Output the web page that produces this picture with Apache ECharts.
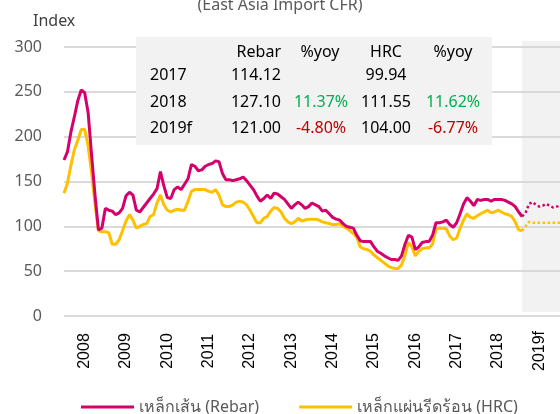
<!DOCTYPE html>
<html>
<head>
<meta charset="utf-8">
<script src="https://cdn.jsdelivr.net/npm/echarts@6/dist/echarts.min.js"></script>
<style>
  html, body { margin: 0; padding: 0; background: #fff; }
  #container { width: 560px; height: 414px; }
</style>
</head>
<body>
<div id="container"></div>
<script>
var dom = document.getElementById('container');
var myChart = echarts.init(dom, null, { renderer: 'canvas' });

// monthly categories Jan 2008 .. Jan 2020
var months = [];
for (var y = 2008; y <= 2020; y++) {
  for (var m = 1; m <= 12; m++) {
    if (y === 2020 && m > 1) break;
    months.push(y + '-' + (m < 10 ? '0' + m : m));
  }
}
var yearLabels = ['2008', '2009', '2010', '2011', '2012', '2013', '2014', '2015', '2016', '2017', '2018', '2019f'];

// Rebar index, monthly actual (Jan 2008 - Feb 2019)
var rebar = [
  174, 183, 205, 222, 240, 252, 249, 227, 180, 135, 96, 98,
  120, 118, 117, 113, 115, 120, 134, 138, 135, 118, 116, 121,
  126, 131, 136, 142, 161, 145, 132, 131, 141, 144, 141, 147,
  153, 169, 167, 162, 163, 167, 169, 170, 173, 172, 159, 152,
  152, 151, 152, 153, 155, 151, 146, 141, 134, 128, 131, 135,
  131, 137, 136, 133, 130, 125, 120, 124, 127, 124, 120, 122,
  126, 124, 122, 117, 118, 114, 110, 108, 107, 103, 100, 99,
  98, 90, 84, 83, 83, 83, 77, 72, 70, 67, 65, 63,
  63, 62, 67, 80, 90, 88, 74, 77, 82, 83, 83, 90,
  104, 104, 105, 107, 102, 99, 104, 114, 125, 132, 128, 123,
  130, 129, 130, 130, 128, 130, 130, 130, 129, 127, 125, 122,
  116, 111
];
// HRC index, monthly actual
var hrc = [
  137, 148, 168, 185, 196, 208, 208, 190, 160, 125, 95, 94,
  94, 93, 80, 80, 85, 95, 106, 113, 107, 98, 100, 102,
  103, 111, 113, 126, 135, 124, 118, 116, 118, 119, 118, 118,
  128, 139, 141, 141, 141, 141, 139, 138, 141, 135, 124, 122,
  122, 124, 127, 128, 127, 124, 118, 111, 104, 104, 109, 111,
  117, 121, 120, 116, 109, 105, 103, 105, 109, 106, 107, 108,
  108, 108, 107, 105, 104, 103, 102, 102, 103, 100, 98, 95,
  92, 88, 77, 75, 74, 72, 68, 65, 62, 59, 56, 54,
  53, 53, 57, 68, 82, 77, 67, 72, 75, 76, 76, 80,
  97, 98, 98, 97, 89, 85, 87, 98, 107, 114, 110, 109,
  112, 114, 116, 118, 115, 116, 118, 116, 114, 113, 111, 105,
  96, 95
];
// forecast part (from Feb 2019)
var rebarForecast = [111, 115, 125, 127, 124, 122, 123, 125, 123, 121, 122, 123];
var hrcForecast = [95, 100, 105, 104, 104, 104, 104, 104, 104, 104, 104, 104];

// table of yearly averages
var tableYears = ['2017', '2018', '2019f'];
var rebarAvg = ['114.12', '127.10', '121.00'];
var rebarYoy = ['', '11.37%', '-4.80%'];
var hrcAvg = ['99.94', '111.55', '104.00'];
var hrcYoy = ['', '11.62%', '-6.77%'];

var colors = ['#d4006b', '#ffc000'];
var fcStart = rebar.length - 1;

function padForecast(arr) {
  var out = [];
  for (var i = 0; i < fcStart; i++) out.push('-');
  return out.concat(arr);
}

var font = '"Noto Sans", "Open Sans", sans-serif';

// table graphics
var tableEls = [{
  type: 'rect',
  shape: { x: 136, y: 37, width: 356, height: 108 },
  style: { fill: '#f2f2f2' },
  z: 5
}];
function tText(x, y, text, align, color) {
  tableEls.push({
    type: 'text', x: x, y: y, z: 6,
    style: {
      text: text, align: align, verticalAlign: 'middle',
      fill: color || '#000', font: '16px ' + font
    }
  });
}
tText(281, 52, 'Rebar', 'right');
tText(320, 52, '%yoy', 'center');
tText(386, 52, 'HRC', 'center');
tText(453, 52, '%yoy', 'center');
var rowY = [75, 102, 128];
tableYears.forEach(function (yr, i) {
  tText(150, rowY[i], yr, 'left');
  tText(281, rowY[i], rebarAvg[i], 'right');
  tText(321, rowY[i], rebarYoy[i], 'center', rebarYoy[i].charAt(0) === '-' ? '#c00000' : '#00b050');
  tText(386, rowY[i], hrcAvg[i], 'center');
  tText(453, rowY[i], hrcYoy[i], 'center', hrcYoy[i].charAt(0) === '-' ? '#c00000' : '#00b050');
});

var option = {
  animation: false,
  backgroundColor: '#fff',
  color: colors,
  title: {
    text: '(East Asia Import CFR)',
    left: 'center',
    top: -8,
    textStyle: { color: '#595959', fontSize: 16, fontWeight: 'normal', fontFamily: font }
  },
  grid: { left: 64, right: 0, top: 47, bottom: 98 },
  legend: {
    data: ['เหล็กเส้น (Rebar)', 'เหล็กแผ่นรีดร้อน (HRC)'],
    left: 76,
    top: 394,
    icon: 'rect',
    itemWidth: 53,
    itemHeight: 3,
    itemGap: 40,
    textStyle: { color: '#595959', fontSize: 16, fontFamily: font }
  },
  graphic: [
    {
      type: 'rect',
      shape: { x: 522, y: 41, width: 38, height: 271 },
      style: { fill: '#f2f2f2' },
      z: -1
    },
    {
      type: 'text', x: 33, y: 21,
      style: { text: 'Index', fill: '#404040', font: '16px ' + font, verticalAlign: 'middle' }
    }
  ].concat(tableEls),
  xAxis: {
    type: 'category',
    data: months,
    boundaryGap: false,
    axisLine: { show: false },
    axisTick: { show: false },
    axisLabel: {
      rotate: 90,
      align: 'center',
      verticalAlign: 'middle',
      margin: 35,
      color: '#000',
      fontSize: 16,
      fontFamily: 'Liberation Sans, Arial, sans-serif',
      interval: function (i) { return i % 12 === 6; },
      formatter: function (v, i) { return yearLabels[Math.floor(i / 12)] || ''; }
    }
  },
  yAxis: {
    type: 'value',
    min: 0,
    max: 300,
    interval: 50,
    axisLine: { show: false },
    axisTick: { show: false },
    axisLabel: { color: '#595959', fontSize: 16, margin: 22, fontFamily: font },
    splitLine: { lineStyle: { color: '#d9d9d9', width: 2 } }
  },
  series: [
    {
      name: 'เหล็กเส้น (Rebar)',
      type: 'line',
      data: rebar,
      showSymbol: false,
      lineStyle: { width: 3, color: colors[0] },
      itemStyle: { color: colors[0] },
      z: 3
    },
    {
      name: 'เหล็กแผ่นรีดร้อน (HRC)',
      type: 'line',
      data: hrc,
      showSymbol: false,
      lineStyle: { width: 3, color: colors[1] },
      itemStyle: { color: colors[1] },
      z: 2
    },
    {
      name: 'Rebar forecast',
      type: 'line',
      data: padForecast(rebarForecast),
      showSymbol: false,
      lineStyle: { width: 2.5, color: colors[0], type: [2.5, 2.5] },
      itemStyle: { color: colors[0] },
      z: 3
    },
    {
      name: 'HRC forecast',
      type: 'line',
      data: padForecast(hrcForecast),
      showSymbol: false,
      lineStyle: { width: 2.5, color: colors[1], type: [2.5, 2.5] },
      itemStyle: { color: colors[1] },
      z: 2
    }
  ]
};

myChart.setOption(option);
window.addEventListener('resize', myChart.resize);
</script>
</body>
</html>
